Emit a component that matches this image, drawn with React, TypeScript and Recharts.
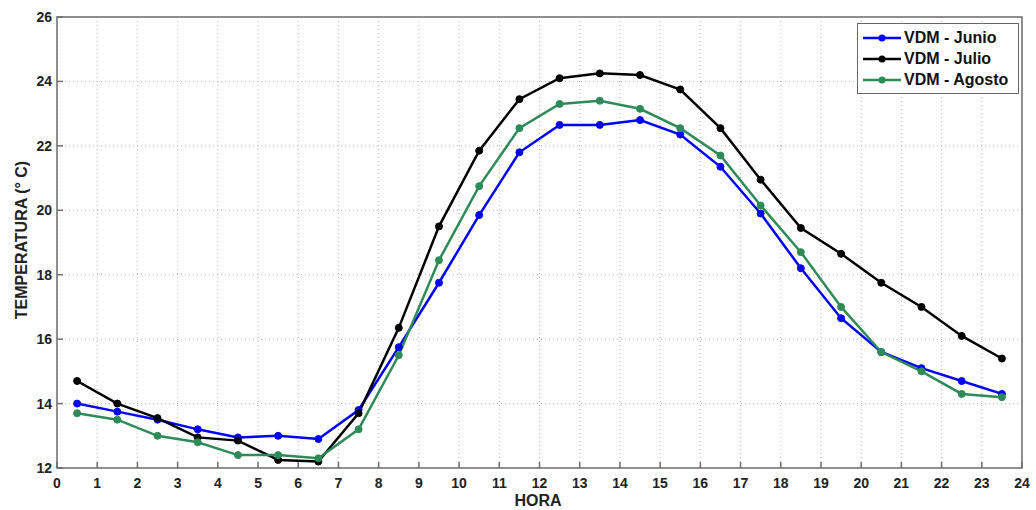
import React from 'react';
import {
  LineChart,
  Line,
  XAxis,
  YAxis,
  CartesianGrid,
  ReferenceArea,
} from 'recharts';

// horas (puntos a la mitad de cada hora)
const horas = [0.5, 1.5, 2.5, 3.5, 4.5, 5.5, 6.5, 7.5, 8.5, 9.5, 10.5, 11.5, 12.5, 13.5, 14.5, 15.5, 16.5, 17.5, 18.5, 19.5, 20.5, 21.5, 22.5, 23.5];

const junio = [14.0, 13.75, 13.5, 13.2, 12.95, 13.0, 12.9, 13.8, 15.75, 17.75, 19.85, 21.8, 22.65, 22.65, 22.8, 22.35, 21.35, 19.9, 18.2, 16.65, 15.6, 15.1, 14.7, 14.3];
const julio = [14.7, 14.0, 13.55, 12.95, 12.85, 12.25, 12.2, 13.7, 16.35, 19.5, 21.85, 23.45, 24.1, 24.25, 24.2, 23.75, 22.55, 20.95, 19.45, 18.65, 17.75, 17.0, 16.1, 15.4];
const agosto = [13.7, 13.5, 13.0, 12.8, 12.4, 12.4, 12.3, 13.2, 15.5, 18.45, 20.75, 22.55, 23.3, 23.4, 23.15, 22.55, 21.7, 20.15, 18.7, 17.0, 15.6, 15.0, 14.3, 14.2];

const xTicks = [0, 1, 2, 3, 4, 5, 6, 7, 8, 9, 10, 11, 12, 13, 14, 15, 16, 17, 18, 19, 20, 21, 22, 23, 24];
const yTicks = [12, 14, 16, 18, 20, 22, 24, 26];

const series = [
  { key: 'junio', name: 'VDM - Junio', color: '#0000ff' },
  { key: 'julio', name: 'VDM - Julio', color: '#000000' },
  { key: 'agosto', name: 'VDM - Agosto', color: '#2e8b57' },
];

const data = horas.map((h, i) => ({ hora: h, junio: junio[i], julio: julio[i], agosto: agosto[i] }));

const FONT = '"Liberation Sans", Arial, sans-serif';
const AXIS = '#6e6e6e';

// ticks hacia dentro, estilo matlab
const BottomTick = ({ x, y, payload }: any) => (
  <g>
    <line x1={x} y1={y} x2={x} y2={y - 6} stroke={AXIS} strokeWidth={1.5} />
    <text x={x} y={y + 20} textAnchor="middle" fontFamily={FONT} fontWeight="bold" fontSize={14} fill="#222">
      {payload.value}
    </text>
  </g>
);
const TopTick = ({ x, y }: any) => (
  <line x1={x} y1={y} x2={x} y2={y + 6} stroke={AXIS} strokeWidth={1.5} />
);
const LeftTick = ({ x, y, payload }: any) => (
  <g>
    <line x1={x} y1={y} x2={x + 6} y2={y} stroke={AXIS} strokeWidth={1.5} />
    <text x={x - 5} y={y + 5} textAnchor="end" fontFamily={FONT} fontWeight="bold" fontSize={14} fill="#222">
      {payload.value}
    </text>
  </g>
);
const RightTick = ({ x, y }: any) => (
  <line x1={x} y1={y} x2={x - 6} y2={y} stroke={AXIS} strokeWidth={1.5} />
);

function Leyenda() {
  return (
    <div
      style={{
        position: 'absolute',
        left: 857,
        top: 23,
        width: 160,
        background: '#fff',
        border: '1px solid #666',
        padding: '3px 0',
        fontFamily: FONT,
        fontWeight: 'bold',
        fontSize: 16,
        color: '#111',
      }}
    >
      {series.map((s) => (
        <div key={s.key} style={{ display: 'flex', alignItems: 'center', height: 21 }}>
          <svg width={44} height={10} style={{ marginLeft: 2 }}>
            <line x1={3} y1={5} x2={41} y2={5} stroke={s.color} strokeWidth={2.5} />
            <circle cx={22} cy={5} r={3.5} fill={s.color} />
          </svg>
          <span>{s.name}</span>
        </div>
      ))}
    </div>
  );
}

export default function App() {
  return (
    <div style={{ position: 'absolute', left: 0, top: 0, width: 1036, height: 510, background: '#fff' }}>
      <LineChart width={1036} height={510} data={data} margin={{ top: 17, right: 14, bottom: 0, left: 0 }}>
        <CartesianGrid stroke="#b5b5b5" strokeDasharray="1 3" />
        <XAxis
          dataKey="hora"
          type="number"
          domain={[0, 24]}
          ticks={xTicks}
          interval={0}
          height={42}
          axisLine={false}
          tickLine={false}
          tickSize={0}
          tickMargin={0}
          tick={<BottomTick />}
        />
        <XAxis
          xAxisId="top"
          orientation="top"
          dataKey="hora"
          type="number"
          domain={[0, 24]}
          ticks={xTicks}
          interval={0}
          height={0}
          axisLine={false}
          tickLine={false}
          tickSize={0}
          tickMargin={0}
          tick={<TopTick />}
        />
        <YAxis
          type="number"
          domain={[12, 26]}
          ticks={yTicks}
          interval={0}
          width={57}
          axisLine={false}
          tickLine={false}
          tickSize={0}
          tickMargin={0}
          tick={<LeftTick />}
        />
        <YAxis
          yAxisId="right"
          orientation="right"
          type="number"
          domain={[12, 26]}
          ticks={yTicks}
          interval={0}
          width={0}
          axisLine={false}
          tickLine={false}
          tickSize={0}
          tickMargin={0}
          tick={<RightTick />}
        />
        <ReferenceArea x1={0} x2={24} y1={12} y2={26} fill="none" stroke={AXIS} strokeWidth={1.5} />
        {series.map((s) => (
          <Line
            key={s.key}
            dataKey={s.key}
            name={s.name}
            stroke={s.color}
            strokeWidth={2.5}
            dot={{ r: 3.5, fill: s.color, stroke: s.color, strokeWidth: 1 }}
            isAnimationActive={false}
          />
        ))}
        <text x={538} y={506} textAnchor="middle" fontFamily={FONT} fontWeight="bold" fontSize={16} fill="#222">
          HORA
        </text>
        <text
          x={21}
          y={240}
          transform="rotate(-90 21 240)"
          textAnchor="middle"
          dominantBaseline="central"
          fontFamily={FONT}
          fontWeight="bold"
          fontSize={16}
          fill="#222"
        >
          TEMPERATURA (° C)
        </text>
      </LineChart>
      <Leyenda />
    </div>
  );
}
